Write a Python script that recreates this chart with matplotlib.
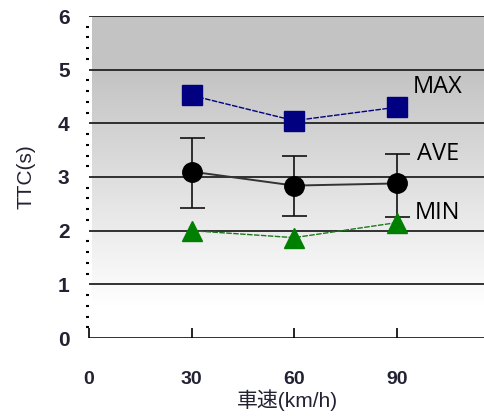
import matplotlib.pyplot as plt
import numpy as np

plt.rcParams['font.family'] = ['Liberation Sans', 'Noto Sans CJK JP', 'DejaVu Sans']

# data
speeds = [30, 60, 90]
ttc_max = [4.52, 4.05, 4.30]
ttc_ave = [3.10, 2.84, 2.88]
ave_hi = [3.72, 3.40, 3.42]
ave_lo = [2.42, 2.27, 2.25]
ttc_min = [2.00, 1.87, 2.15]
xticks = [0, 30, 60, 90]
yticks = [0, 1, 2, 3, 4, 5, 6]

fig = plt.figure(figsize=(4.85, 4.16), dpi=100)
ax = fig.add_axes([89 / 485, 1 - 338 / 416, (485 - 89) / 485, (338 - 16) / 416])

xmin, xmax = 1.0, 115.8
ax.set_xlim(xmin, xmax)
ax.set_ylim(0, 6)

# background gradient (grey at top, white at bottom)
shade = 1 - 0.235 * np.clip((np.linspace(0, 6, 256) - 0.6) / 4.4, 0, 1)
img = np.repeat(shade.reshape(-1, 1, 1), 3, axis=2)
ax.imshow(img, extent=[xmin, xmax, 0, 6], origin='lower', aspect='auto', zorder=0)

for y in yticks:
    ax.axhline(y, color='#222222', lw=1.3, zorder=1)

ax.plot(speeds, ttc_max, color='#000080', lw=1.0, ls=(0, (4, 1)), zorder=2)
ax.plot(speeds, ttc_max, 's', color='#000080', ms=14, zorder=3)

yerr = [np.array(ttc_ave) - np.array(ave_lo), np.array(ave_hi) - np.array(ttc_ave)]
ax.errorbar(speeds, ttc_ave, yerr=yerr, fmt='none', ecolor='#111111', elinewidth=1.2,
            capsize=9, capthick=1.2, zorder=2)
ax.plot(speeds, ttc_ave, color='#333333', lw=1.4, zorder=2)
ax.plot(speeds, ttc_ave, 'o', color='black', ms=14, zorder=3)

ax.plot(speeds, ttc_min, color='#1a7a1a', lw=1.0, ls=(0, (4, 1)), zorder=2)
ax.plot(speeds, ttc_min, '^', color='#008000', ms=15, zorder=3)

for name, yv in [('MAX', 4.68), ('AVE', 3.42), ('MIN', 2.33)]:
    ax.text(102.0, yv, name, fontsize=17, family=['Open Sans', 'DejaVu Sans'],
            ha='center', va='center', zorder=4)

for s in ax.spines.values():
    s.set_visible(False)

ax.set_xticks(xticks)
ax.set_xticklabels([str(v) for v in xticks], fontsize=14, fontweight='bold', color='#222233')
ax.tick_params(axis='x', direction='in', length=7, width=1.2, pad=24)
ax.set_yticks(yticks)
ax.set_yticklabels([str(v) for v in yticks], fontsize=15, fontweight='bold', color='#222233')
ax.tick_params(axis='y', length=0, pad=14)
ax.set_yticks(np.arange(0.2, 6, 0.2), minor=True)
ax.tick_params(axis='y', which='minor', direction='out', length=2, width=1.5)

ax.set_ylabel('TTC(s)', fontsize=15, color='#222233', labelpad=16)
ax.set_xlabel('車速(km/h)', fontsize=15, color='#222233', labelpad=1)

fig.savefig('out.png', dpi=100)
